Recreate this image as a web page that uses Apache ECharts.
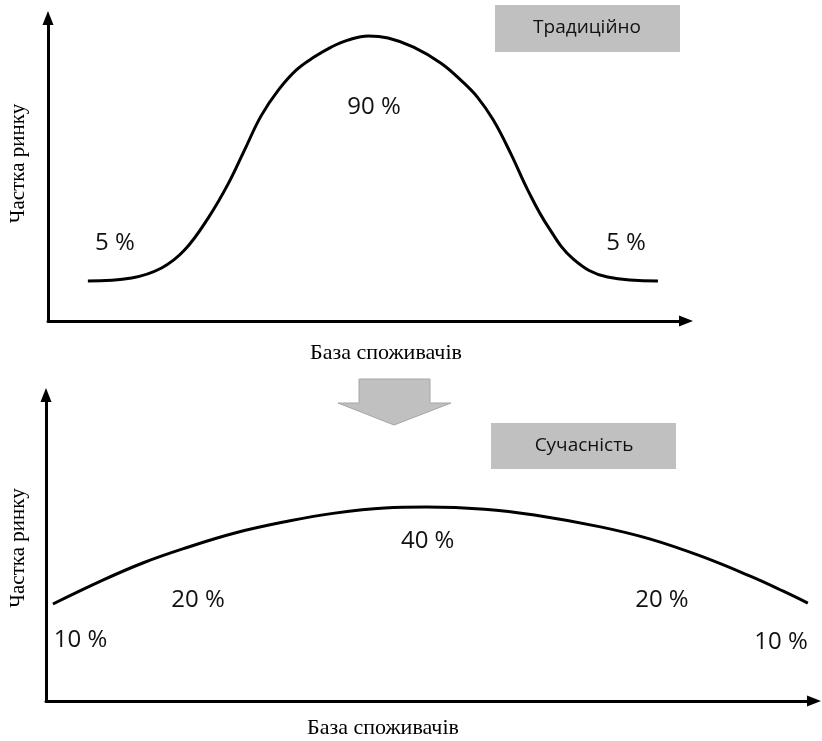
<!DOCTYPE html>
<html>
<head>
<meta charset="utf-8">
<script src="https://cdn.jsdelivr.net/npm/echarts@6/dist/echarts.min.js"></script>
<style>
html,body{margin:0;padding:0;background:#fff;}
#chart{width:822px;height:741px;}
</style>
</head>
<body>
<div id="chart"></div>
<script>
// Top panel: "Традиційно" curve (relative units 0..100)
const xTop = [6.25, 13.1, 17.8, 21.4, 25.2, 28.3, 30.8, 33.4, 36.1, 38.9, 41.7, 44.4, 47.0, 50.2, 53.3, 57.3, 61.6, 64.7, 67.3, 69.8, 72.5, 75.2, 78.3, 82.3, 87.7, 95.6];
const yTop = [13.2, 14.2, 17.5, 23.4, 34.3, 45.5, 56.4, 67.7, 76.2, 82.8, 87.1, 90.4, 92.7, 94.1, 93.4, 90.4, 85.1, 79.5, 73.9, 66.3, 55.4, 43.2, 31.4, 20.5, 14.5, 13.2];
const topLabels = ['5 %', '90 %', '5 %'];
const topLabelX = [10.5, 51.1, 90.6];
const topLabelY = [25.7, 70.6, 25.7];

// Bottom panel: "Сучасність" curve
const xBottom = [0.9, 7.4, 12.6, 17.8, 24.6, 31.6, 37.6, 44.1, 49.5, 57.1, 63.6, 72.2, 78.7, 85.2, 91.7, 96.0, 99.2];
const yBottom = [31.7, 39.5, 45.1, 49.7, 54.9, 58.8, 61.4, 63.1, 63.4, 62.7, 60.8, 56.9, 52.9, 47.4, 40.8, 35.9, 32.0];
const bottomLabels = ['10 %', '20 %', '40 %', '20 %', '10 %'];
const bottomLabelX = [4.5, 19.8, 49.7, 80.2, 95.7];
const bottomLabelY = [19.8, 33.0, 52.3, 33.0, 19.3];

const titles = ['Традиційно', 'Сучасність'];
const yAxisTitle = 'Частка ринку';
const xAxisTitle = 'База споживачів';

const pairs = (xs, ys) => xs.map((x, i) => [x, ys[i]]);
const labelData = (names, xs, ys) => names.map((n, i) => ({ name: n, value: [xs[i], ys[i]] }));

const serif = 'Liberation Serif';
const sans = 'Open Sans';

function xAxisCfg(gridIndex, pad) {
  return {
    type: 'value', gridIndex, min: 0, max: 100,
    axisLine: { show: true, lineStyle: { color: '#000', width: 3 }, symbol: ['none', 'triangle'], symbolSize: [11, 14] },
    axisTick: { show: false }, axisLabel: { show: false }, splitLine: { show: false },
    name: xAxisTitle, nameLocation: 'middle', nameGap: gridIndex === 0 ? 21 : 16,
    nameTextStyle: { fontFamily: serif, fontSize: 22, color: '#000', padding: pad }
  };
}
function yAxisCfg(gridIndex, pad) {
  return {
    type: 'value', gridIndex, min: 0, max: 100,
    axisLine: { show: true, lineStyle: { color: '#000', width: 3 }, symbol: ['none', 'triangle'], symbolSize: [11, 14] },
    axisTick: { show: false }, axisLabel: { show: false }, splitLine: { show: false },
    name: yAxisTitle, nameLocation: 'middle', nameRotate: 90, nameGap: gridIndex === 0 ? 19 : 17,
    nameTextStyle: { fontFamily: serif, fontSize: 21, color: '#000', padding: pad }
  };
}

function labelSeries(idx, data, size) {
  return {
    type: 'scatter', xAxisIndex: idx, yAxisIndex: idx, silent: true,
    symbol: 'circle', symbolSize: 0, itemStyle: { color: '#000' },
    label: { show: true, position: 'inside', formatter: p => p.name, fontFamily: sans, fontSize: size, color: '#111', opacity: 1 },
    data
  };
}

const chart = echarts.init(document.getElementById('chart'), null, { renderer: 'canvas' });
chart.setOption({
  backgroundColor: '#fff',
  animation: false,
  grid: [
    { left: 46, right: 136, top: 18, bottom: 420 },
    { left: 43, right: 8, top: 395, bottom: 40 }
  ],
  xAxis: [xAxisCfg(0, [0, 0, 0, 38]), xAxisCfg(1, [0, 94, 0, 0])],
  yAxis: [yAxisCfg(0, [0, 0, 0, 12]), yAxisCfg(1, [0, 0, 0, 0])],
  series: [
    { type: 'line', xAxisIndex: 0, yAxisIndex: 0, data: pairs(xTop, yTop), smooth: 0.4, showSymbol: false, symbol: 'none',
      lineStyle: { color: '#000', width: 3 } },
    { type: 'line', xAxisIndex: 1, yAxisIndex: 1, data: pairs(xBottom, yBottom), smooth: 0.4, showSymbol: false, symbol: 'none',
      lineStyle: { color: '#000', width: 3 } },
    labelSeries(0, labelData(topLabels, topLabelX, topLabelY), 24),
    labelSeries(1, labelData(bottomLabels, bottomLabelX, bottomLabelY), 24)
  ],
  graphic: [
    { type: 'rect', left: 495, top: 5, shape: { width: 185, height: 47 }, style: { fill: '#c0c0c0' } },
    { type: 'text', x: 587, y: 28, style: { text: titles[0], fontFamily: sans, fontSize: 19, fill: '#111', align: 'center', verticalAlign: 'middle' } },
    { type: 'rect', left: 491, top: 423, shape: { width: 185, height: 46 }, style: { fill: '#c0c0c0' } },
    { type: 'text', x: 584, y: 446, style: { text: titles[1], fontFamily: sans, fontSize: 19, fill: '#111', align: 'center', verticalAlign: 'middle' } },
    { type: 'polygon', shape: { points: [[359, 379], [430, 379], [430, 403], [451, 403], [394, 425], [338, 403], [359, 403]] },
      style: { fill: '#c0c0c0', stroke: '#a6a6a6', lineWidth: 1 } }
  ]
});
</script>
</body>
</html>
